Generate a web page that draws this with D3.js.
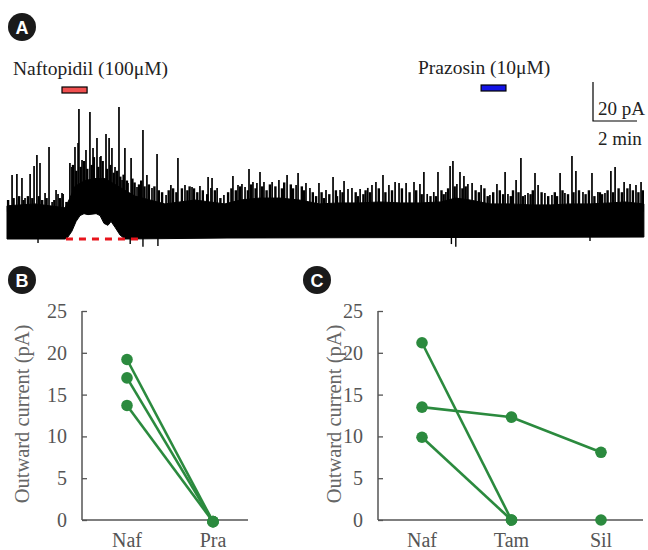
<!DOCTYPE html>
<html>
<head>
<meta charset="utf-8">
<script src="https://cdn.jsdelivr.net/npm/d3@7"></script>
<style>
  body { margin: 0; background: #fff; }
  svg { display: block; }
  text { font-family: "Liberation Serif", "DejaVu Serif", serif; }
</style>
</head>
<body>
<div id="chart"></div>
<script>
// ---- Panel A: whole-cell recording (time in min, current in pA) ----
// solid part of the noise band, upper edge [min, pA]
const bandUpper = [
  [0, 17], [0.6, 17.5], [1.27, 18], [1.95, 17], [2.64, 16], [2.86, 21], [3.09, 27],
  [3.55, 30], [4.0, 31], [4.45, 31], [4.91, 28], [5.36, 25], [5.82, 22], [6.5, 20],
  [7.18, 18], [7.86, 19], [8.55, 20], [9.23, 19], [9.9, 18], [10.6, 20], [11.5, 21],
  [12.4, 21], [13.3, 20], [14.2, 18], [15.1, 18.5], [16.0, 18.5], [16.95, 19], [17.9, 18.5],
  [18.8, 18.5], [19.7, 19], [20.4, 21], [21.05, 20], [21.95, 18], [22.9, 18], [23.8, 17.5],
  [24.7, 17.5], [25.6, 18], [26.5, 18], [27.4, 18.5], [28.1, 19], [28.95, 18]
];
// lower edge of the band (lifts during the naftopidil response)
const bandLower = [
  [0, 0], [2.64, 0], [2.77, 1], [2.95, 4], [3.14, 9], [3.32, 12], [3.5, 13], [3.68, 12.5],
  [4.05, 13], [4.23, 12], [4.41, 8], [4.59, 7], [4.73, 9], [4.91, 6], [5.14, 2],
  [5.36, 0], [10.0, 0.5], [28.95, 1]
];
// small noise peaks that make the ragged top of the band [min, pA]
const noiseTops = [
  [0.05, 20], [0.3, 21], [0.55, 22], [0.75, 20], [0.95, 22], [1.15, 21], [1.45, 22], [1.6, 20],
  [1.8, 21], [2.15, 20], [2.4, 21], [2.7, 19], [3.0, 38], [3.15, 35], [3.35, 37], [3.5, 40],
  [3.65, 36], [3.85, 38], [3.95, 42], [4.15, 37], [4.35, 40], [4.55, 36], [4.7, 38], [4.85, 34],
  [5.0, 35], [5.15, 32], [5.3, 33], [5.45, 30], [5.7, 31], [5.8, 29], [6.0, 28], [6.1, 30],
  [6.25, 27], [6.45, 28], [6.7, 27], [6.9, 25], [7.05, 24], [7.35, 25], [7.55, 26], [7.7, 24],
  [7.95, 26], [8.2, 25], [8.3, 27], [8.5, 26], [8.65, 24], [8.9, 25], [9.1, 23], [9.45, 25],
  [9.7, 21], [10.05, 24], [10.2, 26], [10.4, 25], [10.6, 27], [10.95, 25], [11.1, 28], [11.3, 26],
  [11.6, 27], [11.8, 25], [11.95, 28], [12.2, 27], [12.5, 26], [12.6, 29], [12.9, 28], [13.0, 26],
  [13.4, 27], [13.5, 25], [13.9, 24], [14.05, 22], [14.3, 24], [14.4, 21], [14.65, 23], [14.95, 25],
  [15.0, 22], [15.25, 24], [15.85, 24], [15.95, 22], [16.2, 23], [16.3, 25], [16.5, 24], [16.9, 26],
  [17.2, 24], [17.5, 25], [17.95, 26], [18.3, 24], [18.6, 25], [18.85, 23], [19.25, 22], [19.5, 22],
  [19.75, 25], [19.85, 23], [20.05, 26], [20.35, 27], [20.7, 26], [20.85, 27], [21.3, 25], [21.45, 24],
  [21.7, 26], [21.85, 22], [22.1, 24], [22.4, 25], [22.55, 23], [22.9, 22], [23.0, 25], [23.25, 24],
  [23.45, 22], [23.8, 23], [23.9, 25], [24.3, 24], [24.6, 22], [24.9, 24], [25.0, 22], [25.25, 25],
  [25.5, 23], [25.75, 24], [26.0, 25], [26.3, 23], [26.45, 25], [26.7, 22], [26.95, 24], [27.05, 23],
  [27.3, 25], [27.55, 24], [27.8, 26], [27.95, 24], [28.2, 26], [28.45, 25], [28.7, 24], [28.9, 25]
];
// spontaneous outward events [min, peak pA]
const spikes = [
  [0.23, 32.8], [0.45, 33.3], [0.68, 31.3], [0.82, 21], [1.05, 33.3], [1.23, 37.4],
  [1.36, 43.1], [1.5, 39.0], [1.73, 23.6], [1.91, 47.2], [2.05, 19], [2.23, 25.1],
  [2.32, 23.1], [2.5, 23.6], [2.55, 23.1], [2.86, 39.0], [2.95, 36.9], [3.09, 47.2],
  [3.23, 49.2], [3.27, 66.7], [3.41, 40.5], [3.59, 45.6], [3.77, 65.1], [3.91, 46.7],
  [4.09, 51.8], [4.23, 42.1], [4.27, 42.6], [4.5, 53.8], [4.64, 51.8], [4.77, 46.7],
  [4.91, 36.9], [5.09, 67.7], [5.23, 30.3], [5.36, 46.7], [5.5, 28.7], [5.64, 41.5],
  [5.91, 26.7], [6.18, 55.9], [6.36, 32.8], [6.59, 26.2], [6.82, 43.6], [7.23, 22.6],
  [7.45, 27.7], [7.77, 41.5], [8.09, 27.7], [8.41, 26.7], [8.77, 27.2], [9.14, 31.8],
  [9.27, 26.2], [9.32, 31.3], [9.55, 26.2], [9.86, 22.6], [10.27, 32.3], [10.5, 27.7],
  [10.68, 28.2], [10.82, 26.7], [11.0, 35.9], [11.18, 29.2], [11.36, 28.7], [11.5, 34.4],
  [11.68, 29.2], [12.05, 29.2], [12.36, 30.3], [12.73, 32.8], [13.14, 27.7], [13.23, 33.8],
  [13.59, 28.7], [13.77, 26.2], [14.18, 28.7], [14.5, 25.1], [14.82, 31.8], [15.14, 25.1],
  [15.32, 29.7], [15.5, 25.6], [15.68, 26.2], [16.05, 25.6], [16.4, 26.2], [16.59, 27.7],
  [16.77, 29.2], [17.09, 32.8], [17.36, 27.7], [17.64, 29.2], [17.82, 28.7], [18.14, 28.7],
  [18.5, 29.2], [18.77, 28.2], [18.95, 34.4], [19.1, 23.1], [19.4, 24.1], [19.59, 34.4],
  [19.95, 24.1], [20.14, 37.4], [20.27, 40.0], [20.45, 28.2], [20.59, 34.4], [20.77, 32.3],
  [20.95, 28.2], [21.14, 28.7], [21.55, 27.7], [21.95, 22.6], [22.27, 28.2], [22.64, 34.4],
  [22.77, 23.1], [23.14, 30.3], [23.36, 41.5], [23.55, 22.6], [23.68, 23.6], [24.0, 33.8],
  [24.14, 27.7], [24.45, 23.6], [24.77, 22.6], [25.14, 33.8], [25.36, 23.6], [25.68, 42.6],
  [25.86, 34.9], [26.18, 24.1], [26.59, 33.8], [26.86, 24.1], [27.18, 23.6], [27.45, 34.9],
  [27.64, 36.9], [28.05, 29.2], [28.32, 28.2], [28.59, 27.7], [28.82, 29.2]
];
// inward deflections below baseline [min, pA]
const dips = [[1.41, -2], [5.6, -2.5], [6.18, -4], [6.86, -3.6], [20.2, -2.6], [20.4, -4], [26.5, -1]];
// drug application periods [start, end] in min
const nafBar = [2.5, 3.64];
const praBar = [21.55, 22.68];
const nafBaseline = [2.68, 6.18];

// ---- Panels B and C: outward current (pA) ----
const yTicks = [0, 5, 10, 15, 20, 25];
const bCategories = ['Naf', 'Pra'];
const bSeries = [[19.2, -0.2], [17.0, -0.2], [13.7, -0.2]];
const cCategories = ['Naf', 'Tam', 'Sil'];
const cSeries = [[21.2, 0, null], [13.5, 12.3, 8.1], [9.9, 0, null]];
const cLoosePoints = [['Sil', 0]];

const W = 648, H = 550;
const green = '#2b8a3e';
const axisGray = '#555';

const svg = d3.select('#chart').append('svg').attr('width', W).attr('height', H);

function badge(cx, cy, letter) {
  svg.append('circle').attr('cx', cx).attr('cy', cy).attr('r', 14).attr('fill', '#1a1a1a');
  svg.append('text').attr('x', cx).attr('y', cy + 6.5).attr('text-anchor', 'middle')
    .attr('fill', '#fff').attr('font-size', 18).attr('font-weight', 'bold')
    .style('font-family', 'Arial, "Liberation Sans", sans-serif').text(letter);
}

// ===== Panel A =====
badge(22, 27, 'A');

const xT = d3.scaleLinear().domain([0, 29]).range([7, 645]);
const yT = d3.scaleLinear().domain([0, 70]).range([239, 102.5]);

const bandPts = bandUpper.concat(bandLower.slice().reverse());
svg.append('path')
  .attr('d', d3.line().x(d => xT(d[0])).y(d => yT(d[1]))(bandPts) + 'Z')
  .attr('fill', '#000').attr('stroke', '#000').attr('stroke-width', 1);

svg.append('g').selectAll('line').data(noiseTops).enter().append('line')
  .attr('x1', d => xT(d[0])).attr('x2', d => xT(d[0]))
  .attr('y1', yT(14)).attr('y2', d => yT(d[1]))
  .attr('stroke', '#000').attr('stroke-width', 2.4);

svg.append('g').selectAll('line').data(spikes).enter().append('line')
  .attr('x1', d => xT(d[0])).attr('x2', d => xT(d[0]))
  .attr('y1', yT(15)).attr('y2', d => yT(d[1]))
  .attr('stroke', '#000').attr('stroke-width', 1.7);

svg.append('g').selectAll('line').data(dips).enter().append('line')
  .attr('x1', d => xT(d[0])).attr('x2', d => xT(d[0]))
  .attr('y1', yT(2)).attr('y2', d => yT(d[1]))
  .attr('stroke', '#000').attr('stroke-width', 1.4);

// baseline marker during naftopidil
svg.append('line')
  .attr('x1', xT(nafBaseline[0])).attr('x2', xT(nafBaseline[1]))
  .attr('y1', yT(0)).attr('y2', yT(0))
  .attr('stroke', '#e8141c').attr('stroke-width', 3).attr('stroke-dasharray', '7,6');

// drug bars + labels
svg.append('rect').attr('x', xT(nafBar[0])).attr('y', 87)
  .attr('width', xT(nafBar[1]) - xT(nafBar[0])).attr('height', 6)
  .attr('fill', '#f05050').attr('stroke', '#000').attr('stroke-width', 1.2);
svg.append('rect').attr('x', xT(praBar[0])).attr('y', 85)
  .attr('width', xT(praBar[1]) - xT(praBar[0])).attr('height', 6)
  .attr('fill', '#1414e6').attr('stroke', '#000').attr('stroke-width', 1.2);
svg.append('text').attr('x', 13).attr('y', 75).attr('font-size', 19.5).attr('fill', '#222')
  .text('Naftopidil (100μM)');
svg.append('text').attr('x', 418).attr('y', 74).attr('font-size', 19.5).attr('fill', '#222')
  .text('Prazosin (10μM)');

// scale bar
const sbX = 593, sbY = 121;
svg.append('path')
  .attr('d', `M${sbX},${sbY - (yT(0) - yT(20))}V${sbY}H${sbX + xT(2) - xT(0)}`)
  .attr('fill', 'none').attr('stroke', '#000').attr('stroke-width', 1.2);
svg.append('text').attr('x', 598).attr('y', 115).attr('font-size', 19).attr('fill', '#222').text('20 pA');
svg.append('text').attr('x', 598).attr('y', 145).attr('font-size', 19).attr('fill', '#222').text('2 min');

// ===== Panels B / C =====
function dotPanel(opt) {
  const y = d3.scaleLinear().domain([0, 25]).range([520, 311]);
  const x = d3.scalePoint().domain(opt.cats).range(opt.catRange);
  const g = svg.append('g');

  const ay = g.append('g').attr('transform', `translate(${opt.x0},0)`)
    .call(d3.axisLeft(y).tickValues(yTicks).tickSize(-5).tickPadding(15));
  ay.select('.domain').attr('d', `M0,${y(25)}V${y(0)}`);
  ay.selectAll('line').attr('stroke', axisGray).attr('stroke-width', 1.3);
  ay.select('.domain').attr('stroke', axisGray).attr('stroke-width', 1.5);
  ay.selectAll('text').attr('font-size', 20).attr('fill', axisGray)
    .style('font-family', '"Liberation Serif", serif');

  g.append('line').attr('x1', opt.x0).attr('x2', opt.x1)
    .attr('y1', y(0)).attr('y2', y(0)).attr('stroke', axisGray).attr('stroke-width', 1.5);
  g.selectAll('text.cat').data(opt.cats).enter().append('text').attr('class', 'cat')
    .attr('x', d => x(d)).attr('y', 547).attr('text-anchor', 'middle')
    .attr('font-size', 20).attr('fill', axisGray).text(d => d);

  g.append('text').attr('transform', 'rotate(-90)')
    .attr('x', -414).attr('y', opt.labelX).attr('text-anchor', 'middle')
    .attr('font-size', 20.5).attr('fill', '#666').text('Outward current (pA)');

  const line = d3.line().defined(d => d.v !== null).x(d => x(d.c)).y(d => y(d.v));
  opt.series.forEach(s => {
    const pts = s.map((v, i) => ({ c: opt.cats[i], v }));
    g.append('path').attr('d', line(pts)).attr('fill', 'none')
      .attr('stroke', green).attr('stroke-width', 2.6);
    g.selectAll(null).data(pts.filter(p => p.v !== null)).enter().append('circle')
      .attr('cx', d => x(d.c)).attr('cy', d => y(d.v)).attr('r', 5.8).attr('fill', green);
  });
  (opt.loose || []).forEach(p => {
    g.append('circle').attr('cx', x(p[0])).attr('cy', y(p[1])).attr('r', 5.8).attr('fill', green);
  });
}

badge(22, 280, 'B');
dotPanel({ cats: bCategories, series: bSeries, x0: 82, x1: 248, catRange: [127, 213], labelX: 29 });

badge(317, 280, 'C');
dotPanel({ cats: cCategories, series: cSeries, loose: cLoosePoints, x0: 378, x1: 643, catRange: [422, 601], labelX: 341 });
</script>
</body>
</html>
